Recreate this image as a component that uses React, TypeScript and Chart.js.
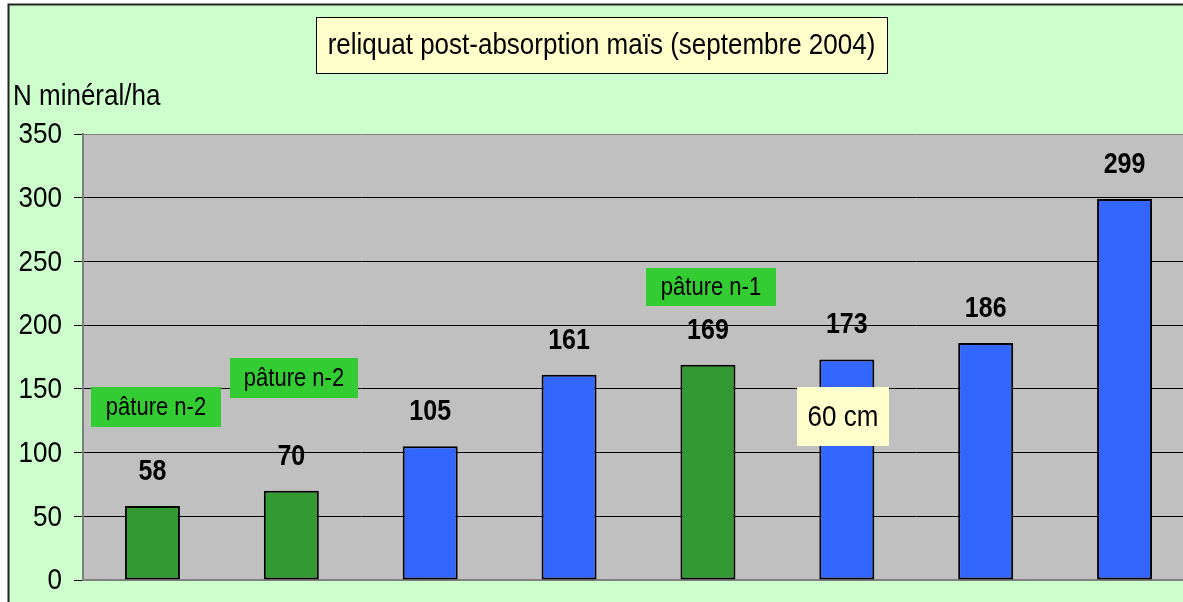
import React, { useEffect, useRef } from "react";
import { Chart, registerables } from "chart.js";

Chart.register(...registerables);

// ---- data ----
const categories = ["1", "2", "3", "4", "5", "6", "7", "8"];
const reliquat = [58, 70, 105, 161, 169, 173, 186, 299];
const prairieHistory = ["n-2", "n-2", "", "", "n-1", "", "", ""];
const yTicks = [0, 50, 100, 150, 200, 250, 300, 350];

const titleText = "reliquat post-absorption maïs (septembre 2004)";
const yAxisTitle = "N minéral/ha";

// text annotations (pixel boxes)
const notes = [
  { text: "pâture n-2", x: 91, y: 387, w: 130, h: 40, bg: "#33CC33", size: 22 },
  { text: "pâture n-2", x: 230, y: 358, w: 128, h: 40, bg: "#33CC33", size: 22 },
  { text: "pâture n-1", x: 646, y: 268, w: 130, h: 38, bg: "#33CC33", size: 22 },
  { text: "60 cm", x: 797, y: 387, w: 92, h: 59, bg: "#FFFFCC", size: 26 },
];

const W = 1200;
const H = 612;
const FONT = '"Liberation Sans", Arial, sans-serif';
const GREEN = "#339933";
const BLUE = "#3366FF";
const SY = 1.15;

function txt(ctx: any, s: string, x: number, y: number, font: string, align: string) {
  ctx.save();
  ctx.font = font;
  ctx.textAlign = align;
  ctx.textBaseline = "middle";
  ctx.fillStyle = "#000";
  ctx.translate(x, y);
  ctx.scale(1, SY);
  ctx.fillText(s, 0, 0);
  ctx.restore();
}

const decorPlugin = {
  id: "decor",
  beforeDraw(chart: any) {
    const { ctx, chartArea: a } = chart;
    ctx.save();
    ctx.fillStyle = "#ffffff";
    ctx.fillRect(0, 0, W, H);
    ctx.fillStyle = "#CCFFCC";
    ctx.fillRect(8, 4, W, H);
    ctx.strokeStyle = "#222222";
    ctx.lineWidth = 2;
    ctx.strokeRect(8.5, 4.5, W + 40, H + 40);
    ctx.fillStyle = "#C0C0C0";
    ctx.fillRect(a.left, a.top, a.right - a.left, a.bottom - a.top);
    ctx.restore();
  },
  beforeDatasetsDraw(chart: any) {
    const { ctx, chartArea: a } = chart;
    ctx.save();
    ctx.strokeStyle = "#808080";
    ctx.lineWidth = 2;
    ctx.beginPath();
    ctx.moveTo(a.left, a.bottom);
    ctx.lineTo(a.right, a.bottom);
    ctx.stroke();
    ctx.restore();
  },
  afterDraw(chart: any) {
    const { ctx } = chart;
    const yScale = chart.scales.y;
    ctx.save();
    // y tick labels
    yTicks.forEach((v) => {
      txt(ctx, String(v), 62, yScale.getPixelForValue(v) + 1, `26px ${FONT}`, "right");
    });
    // data labels
    const meta = chart.getDatasetMeta(0);
    meta.data.forEach((bar: any, i: number) => {
      txt(ctx, String(reliquat[i]), bar.x, bar.y - 34, `bold 25px ${FONT}`, "center");
    });
    // title box
    ctx.fillStyle = "#FFFFCC";
    ctx.fillRect(316, 17, 571, 56);
    ctx.strokeStyle = "#000";
    ctx.lineWidth = 1;
    ctx.strokeRect(316.5, 17.5, 571, 56);
    txt(ctx, titleText, 601.5, 46, `26px ${FONT}`, "center");
    // y axis title
    txt(ctx, yAxisTitle, 13, 97, `26px ${FONT}`, "left");
    // notes
    notes.forEach((n) => {
      ctx.fillStyle = n.bg;
      ctx.fillRect(n.x, n.y, n.w, n.h);
      txt(ctx, n.text, n.x + n.w / 2, n.y + n.h / 2 + 1, `${n.size}px ${FONT}`, "center");
    });
    ctx.restore();
  },
};

export default function App() {
  const ref = useRef<HTMLCanvasElement>(null);
  useEffect(() => {
    const canvas = ref.current!;
    const chart = new Chart(canvas, {
      type: "bar",
      data: {
        labels: categories,
        datasets: [
          {
            data: reliquat,
            backgroundColor: prairieHistory.map((p) => (p ? GREEN : BLUE)),
            borderColor: "#000000",
            borderWidth: 2,
            borderSkipped: false,
            barPercentage: 0.396,
            categoryPercentage: 1,
          },
        ],
      },
      options: {
        responsive: false,
        animation: false,
        devicePixelRatio: 1,
        layout: { padding: { left: 0, right: 6, top: 134, bottom: H - 580 } },
        plugins: {
          legend: { display: false },
          title: { display: false },
          tooltip: { enabled: false },
        },
        scales: {
          x: { display: false },
          y: {
            min: 0,
            max: 350,
            afterBuildTicks: (scale: any) => {
              scale.ticks = yTicks.map((v) => ({ value: v }));
            },
            afterFit: (scale: any) => {
              scale.width = 83;
            },
            border: { display: true, color: "#808080", width: 2 },
            grid: {
              color: (c: any) =>
                c.tick && (c.tick.value === 0 || c.tick.value === 350) ? "#808080" : "#000000",
              lineWidth: 1,
              drawTicks: true,
              tickLength: 9,
              tickColor: "#000000",
            },
            ticks: {
              display: false,
              font: { family: FONT, size: 26 },
              padding: 12,
            },
          },
        },
      } as any,
      plugins: [decorPlugin],
    });
    return () => chart.destroy();
  }, []);
  return (
    <div style={{ width: 1183, height: 602, overflow: "hidden", position: "relative" }}>
      <style>{"body{margin:0;overflow:hidden}"}</style>
      <canvas ref={ref} width={W} height={H} style={{ display: "block" }} />
    </div>
  );
}
